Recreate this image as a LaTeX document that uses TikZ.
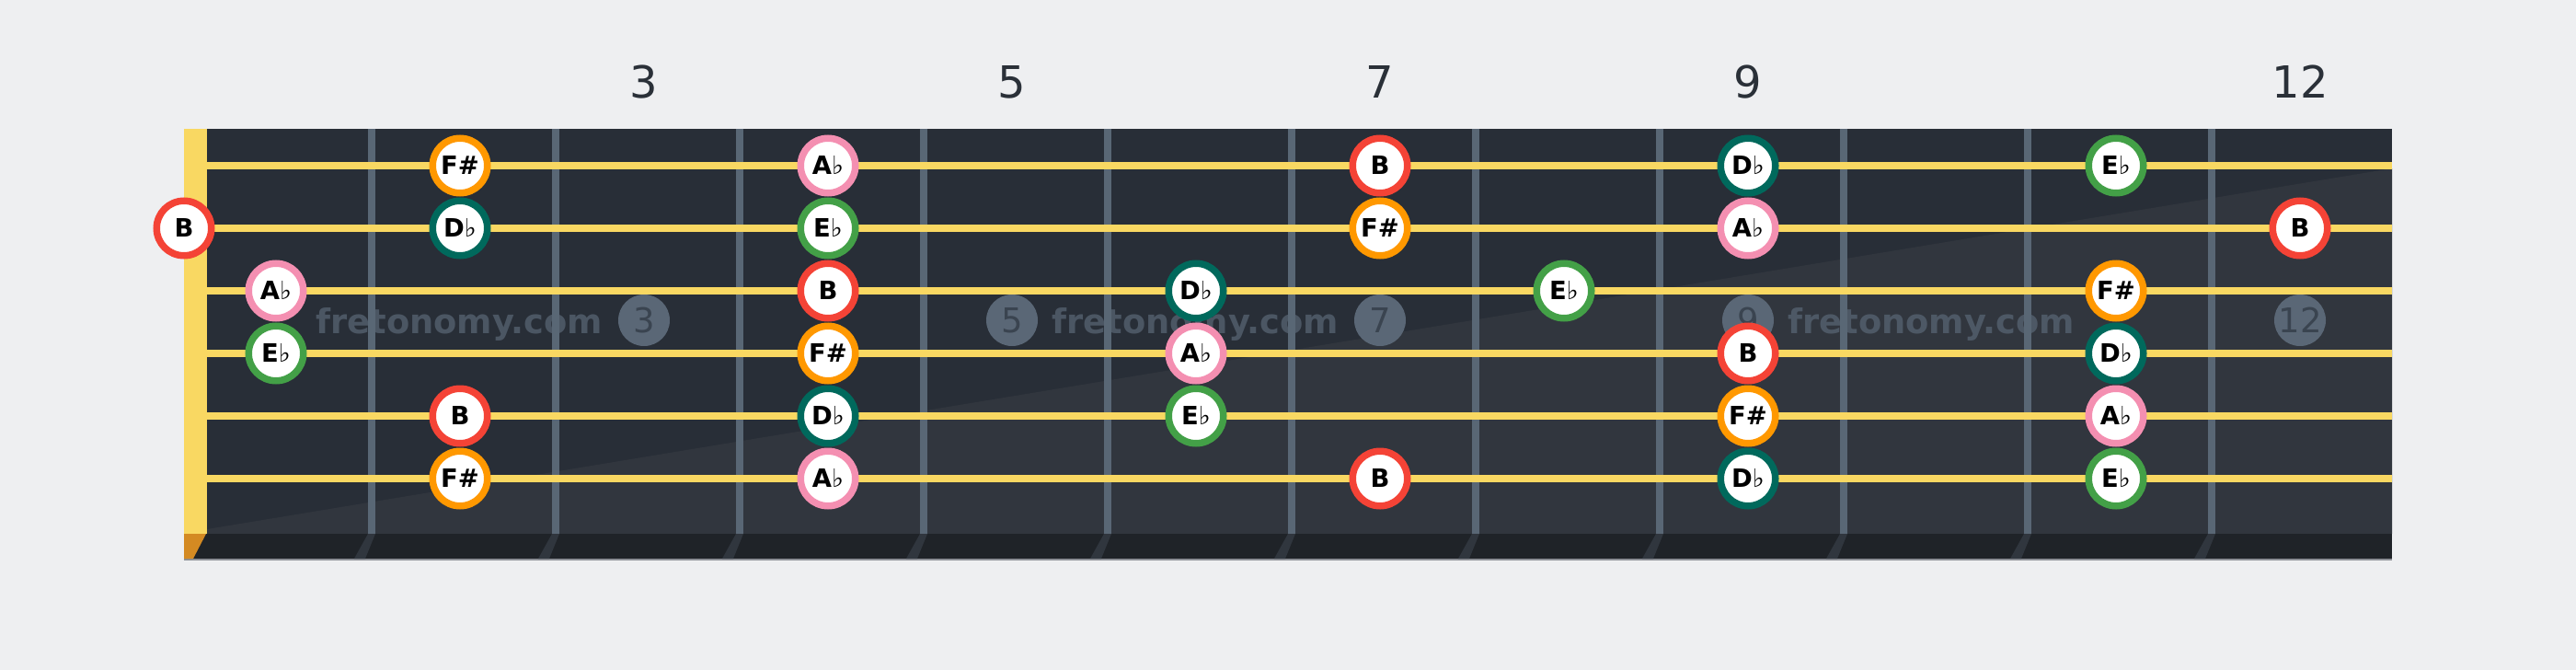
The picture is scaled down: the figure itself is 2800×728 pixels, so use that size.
\documentclass[tikz,border=0pt]{standalone}
\usepackage{fontspec}
\setmainfont{DejaVu Sans}
\definecolor{bg}{HTML}{EEEFF1}
\definecolor{board}{HTML}{282E37}
\definecolor{boardlt}{HTML}{31363E}
\definecolor{strip}{HTML}{1F2328}
\definecolor{stripline}{HTML}{8D9096}
\definecolor{fretc}{HTML}{596775}
\definecolor{shadowc}{HTML}{30363E}
\definecolor{nutc}{HTML}{F9D862}
\definecolor{nutbot}{HTML}{D48A22}
\definecolor{strc}{HTML}{F9D862}
\definecolor{mk}{HTML}{5A6776}
\definecolor{mktext}{HTML}{3A4450}
\definecolor{labc}{HTML}{2A3038}
\definecolor{cB}{HTML}{F44336}
\definecolor{cFs}{HTML}{FF9800}
\definecolor{cDb}{HTML}{00695C}
\definecolor{cAb}{HTML}{F48FB1}
\definecolor{cEb}{HTML}{43A047}
\newcommand{\myflat}{{\mdseries ♭}}
\newcommand{\lblB}{\textbf{B}}
\newcommand{\lblFs}{\textbf{F\#}}
\newcommand{\lblDb}{\textbf{D}\myflat}
\newcommand{\lblAb}{\textbf{A}\myflat}
\newcommand{\lblEb}{\textbf{E}\myflat}
\begin{document}
\begin{tikzpicture}[x=0.5pt,y=-0.5pt,
  note/.style={circle, fill=white, draw=c#1, line width=3.75pt,
    minimum size=29.75pt, inner sep=0pt,
    font=\fontsize{13.7pt}{16pt}\selectfont},
  marker/.style={circle, fill=mk, minimum size=28pt, inner sep=0pt,
    text=mktext, font=\fontsize{18.5pt}{20pt}\selectfont},
  fretnum/.style={inner sep=0pt, text=labc, font=\fontsize{24pt}{28pt}\selectfont},
  wm/.style={inner sep=0pt, anchor=base west, text=mk, text opacity=0.7,
    font=\fontsize{18.4pt}{20pt}\selectfont\bfseries},
  stringline/.style={draw=strc, line width=4pt},
]
\useasboundingbox (0,0) rectangle (2800,728);
\fill[bg] (0,0) rectangle (2800,728);
% board
\fill[board] (200,140) rectangle (2600,580);
\fill[boardlt] (225,575) -- (2600,183) -- (2600,580) -- (225,580) -- cycle;
% bottom strip
\fill[strip] (200,580) rectangle (2600,608);
\fill[stripline] (200,607) rectangle (2600,609);
\fill[nutbot] (200,580) -- (224,580) -- (210,607) -- (200,607) -- cycle;
\foreach \k in {2,...,12} {
  \fill[shadowc] (200*\k,580) -- (200*\k+8,580) -- (200*\k-3,607) -- (200*\k-15,607) -- cycle;
}
% frets
\foreach \k in {2,...,12} {
  \fill[fretc] (200*\k,140) rectangle (200*\k+8,580);
}
% nut
\fill[nutc] (200,140) rectangle (225,580);
% fret numbers
\foreach \f in {3,5,7,9,12} {
  \node[fretnum] (t\f) at (100+200*\f, 89) {\f};
}
% inlay markers
\foreach \f in {3,5,7,9,12} {
  \node[marker] (m\f) at (100+200*\f, 348) {\f};
}
% watermark
\foreach \i/\xx in {1/343,2/1143,3/1943} {
  \node[wm] (w\i) at (\xx, 362) {fretonomy.com};
}
% strings
\foreach \s in {1,...,6} {
  \coordinate (sa\s) at (225, 180+68*\s-68);
  \coordinate (sb\s) at (2600, 180+68*\s-68);
  \draw[stringline] (sa\s) -- (sb\s);
}
% notes
\node[note=B] (n2-0) at (200,248) {\lblB};
\foreach \s/\f/\k in {
  1/2/Fs, 1/4/Ab, 1/7/B, 1/9/Db, 1/11/Eb,
  2/2/Db, 2/4/Eb, 2/7/Fs, 2/9/Ab, 2/12/B,
  3/1/Ab, 3/4/B, 3/6/Db, 3/8/Eb, 3/11/Fs,
  4/1/Eb, 4/4/Fs, 4/6/Ab, 4/9/B, 4/11/Db,
  5/2/B, 5/4/Db, 5/6/Eb, 5/9/Fs, 5/11/Ab,
  6/2/Fs, 6/4/Ab, 6/7/B, 6/9/Db, 6/11/Eb} {
  \node[note=\k] (n\s-\f) at (100+200*\f, 180+68*\s-68) {\csname lbl\k\endcsname};
}
\end{tikzpicture}
\end{document}
